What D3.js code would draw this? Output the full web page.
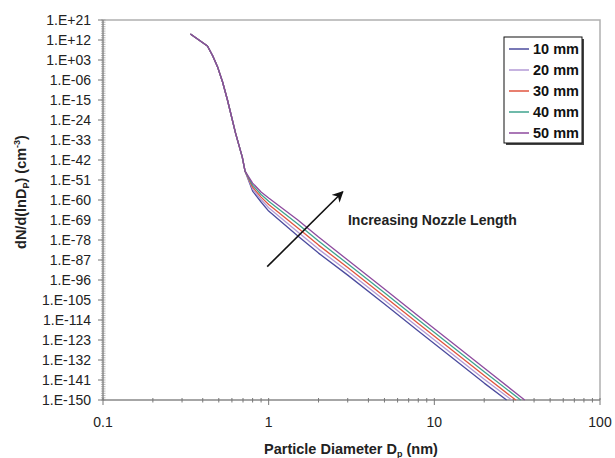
<!DOCTYPE html>
<html>
<head>
<meta charset="utf-8">
<script src="https://d3js.org/d3.v7.min.js"></script>
<style>
  body { margin: 0; background: #fff; }
  text { font-family: Arial, "Liberation Sans", sans-serif; }
</style>
</head>
<body>
<svg id="vis"></svg>
<script>
  var W = 615, H = 458
  var margin = {left: 103, right: 15, top: 20, bottom: 58}

  // shared steep part of the distribution (Dp in nm, log10 of dN/dlnDp)
  var sharedDp  = [0.337, 0.427, 0.46, 0.491, 0.527, 0.564, 0.631, 0.693, 0.72]
  var sharedLog = [14.7, 9.3, 4.8, 0, -6.9, -15, -29.9, -40.7, -47]

  // diverging tail
  var tailDp = [0.8, 0.9, 1, 1.5, 2, 3, 5, 8, 12, 20]
  var series = ['10 mm', '20 mm', '30 mm', '40 mm', '50 mm']
  var colors = ['#4b4b9e', '#b39ad6', '#e0553f', '#3fa38e', '#8e4a9e']
  var log10mm = [-56, -60.9, -65, -76.2, -83.9, -93.8, -106.8, -119, -129.3, -142.4]
  var log20mm = [-55.1, -59.8, -63.5, -74.4, -82.1, -92.1, -105.1, -117.3, -127.6, -140.7]
  var log30mm = [-54.2, -58.7, -62, -72.6, -80.3, -90.4, -103.4, -115.6, -125.9, -139]
  var log40mm = [-53.3, -57.5, -60.6, -70.8, -78.5, -88.7, -101.7, -113.9, -124.2, -137.3]
  var log50mm = [-52.4, -56.4, -59.1, -69, -76.7, -87, -100, -112.2, -122.6, -135.6]
  var endDp   = [27.3, 29.3, 31, 33.2, 35.1]   // where each curve reaches 1.E-150
  var tails = [log10mm, log20mm, log30mm, log40mm, log50mm]

  var yTickExp = d3.range(21, -151, -9)
  var xTicks = [0.1, 1, 10, 100]

  var svg = d3.select('#vis').attr('width', W).attr('height', H)

  var x = d3.scaleLog().domain([0.1, 100]).range([margin.left, W - margin.right])
  var y = d3.scaleLog().domain([1e-150, 1e21]).range([H - margin.bottom, margin.top])

  // frame
  svg.append('path')
    .attr('d', 'M' + x(0.1) + ',' + y(1e21) + 'H' + x(100) + 'V' + y(1e-150))
    .attr('fill', 'none').attr('stroke', '#b0b0b0').attr('stroke-width', 1.5)

  // y axis
  var gy = svg.append('g')
  d3.range(21, -151, -1).forEach(function (e) {
    gy.append('line')
      .attr('x1', x(0.1) - 2).attr('x2', x(0.1) + 2.5)
      .attr('y1', y(Math.pow(10, e))).attr('y2', y(Math.pow(10, e)))
      .attr('stroke', '#999').attr('stroke-width', 0.7)
  })
  yTickExp.forEach(function (e) {
    var yy = y(Math.pow(10, e))
    gy.append('line').attr('x1', x(0.1) - 5).attr('x2', x(0.1))
      .attr('y1', yy).attr('y2', yy).attr('stroke', '#777')
    gy.append('text')
      .attr('x', x(0.1) - 12).attr('y', yy + 5)
      .attr('text-anchor', 'end').attr('font-size', 14).attr('fill', '#222')
      .text('1.E' + (e >= 0 ? '+' : '-') + d3.format('02d')(Math.abs(e)))
  })
  gy.append('line')
    .attr('x1', x(0.1)).attr('x2', x(0.1))
    .attr('y1', y(1e21)).attr('y2', y(1e-150))
    .attr('stroke', '#888').attr('stroke-width', 1.5)

  // x axis
  var gx = svg.append('g')
  var y0 = y(1e-150)
  gx.append('line').attr('x1', x(0.1)).attr('x2', x(100))
    .attr('y1', y0).attr('y2', y0).attr('stroke', '#888').attr('stroke-width', 1.5)
  x.ticks().forEach(function (t) {
    var major = xTicks.indexOf(t) >= 0
    gx.append('line').attr('x1', x(t)).attr('x2', x(t))
      .attr('y1', y0 - 2).attr('y2', y0 + (major ? 5 : 2.5))
      .attr('stroke', '#777')
  })
  xTicks.forEach(function (t) {
    gx.append('text').attr('x', x(t)).attr('y', y0 + 27)
      .attr('text-anchor', 'middle').attr('font-size', 14).attr('fill', '#222')
      .text(t)
  })

  // axis titles
  var xt = svg.append('text')
    .attr('x', 351).attr('y', 454)
    .attr('text-anchor', 'middle').attr('font-size', 14.5).attr('font-weight', 'bold').attr('fill', '#222')
  xt.append('tspan').text('Particle Diameter D')
  xt.append('tspan').attr('font-size', 9).attr('dy', 3).text('p')
  xt.append('tspan').attr('dy', -3).text(' (nm)')

  var yt = svg.append('text')
    .attr('transform', 'translate(26,' + 192 + ') rotate(-90)')
    .attr('text-anchor', 'middle').attr('font-size', 14.5).attr('font-weight', 'bold').attr('fill', '#222')
  yt.append('tspan').text('dN/d(lnD')
  yt.append('tspan').attr('font-size', 9).attr('dy', 3).text('P')
  yt.append('tspan').attr('dy', -3).text(') (cm')
  yt.append('tspan').attr('font-size', 9).attr('dy', -6).text('-3')
  yt.append('tspan').attr('dy', 6).text(')')

  // curves
  var line = d3.line()
    .x(function (d) { return x(d[0]) })
    .y(function (d) { return y(Math.pow(10, d[1])) })

  series.forEach(function (s, i) {
    var pts = sharedDp.map(function (d, j) { return [d, sharedLog[j]] })
    tailDp.forEach(function (d, j) { pts.push([d, tails[i][j]]) })
    pts.push([endDp[i], -150])
    svg.append('path').datum(pts)
      .attr('d', line)
      .attr('fill', 'none')
      .attr('stroke', colors[i])
      .attr('stroke-width', 1.3)
      .attr('stroke-linejoin', 'round')
  })

  // annotation arrow
  var arrowFrom = [0.98, -90], arrowTo = [2.8, -56.3]
  svg.append('defs').append('marker')
    .attr('id', 'head').attr('viewBox', '0 0 10 10')
    .attr('refX', 9).attr('refY', 5)
    .attr('markerWidth', 7).attr('markerHeight', 7)
    .attr('orient', 'auto')
    .append('path').attr('d', 'M0,0 L10,5 L0,10 L3,5 Z').attr('fill', '#111')
  svg.append('line')
    .attr('x1', x(arrowFrom[0])).attr('y1', y(Math.pow(10, arrowFrom[1])))
    .attr('x2', x(arrowTo[0])).attr('y2', y(Math.pow(10, arrowTo[1])))
    .attr('stroke', '#111').attr('stroke-width', 1.6)
    .attr('marker-end', 'url(#head)')
  svg.append('text')
    .attr('x', x(3.01)).attr('y', y(Math.pow(10, -69)) + 5)
    .attr('font-size', 14).attr('font-weight', 'bold').attr('fill', '#222')
    .text('Increasing Nozzle Length')

  // legend
  var lg = svg.append('g').attr('transform', 'translate(504,37)')
  lg.append('rect').attr('x', 2).attr('y', 2).attr('width', 78).attr('height', 106).attr('fill', '#444')
  lg.append('rect').attr('width', 78).attr('height', 106)
    .attr('fill', '#fff').attr('stroke', '#111').attr('stroke-width', 1)
  series.forEach(function (s, i) {
    var yy = 12 + i * 21
    lg.append('line').attr('x1', 5).attr('x2', 25).attr('y1', yy).attr('y2', yy)
      .attr('stroke', colors[i]).attr('stroke-width', 1.5)
    lg.append('text').attr('x', 29).attr('y', yy + 5)
      .attr('font-size', 14.5).attr('font-weight', 'bold').attr('fill', '#111')
      .text(s)
  })
</script>
</body>
</html>
